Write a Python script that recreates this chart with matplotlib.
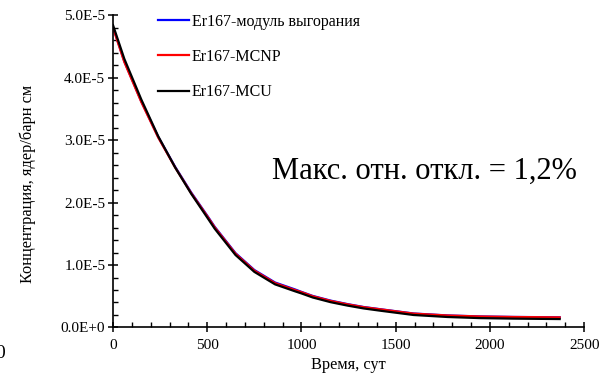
import numpy as np
import matplotlib
matplotlib.use("Agg")
import matplotlib.pyplot as plt
from matplotlib.ticker import MultipleLocator, FuncFormatter

plt.rcParams['font.family'] = ['Liberation Serif', 'DejaVu Serif']

# time, days
days = [0, 60, 150, 240, 330, 415, 500, 540, 650, 750, 860, 965, 1000, 1060,
        1155, 1245, 1330, 1420, 1595, 1775, 1950, 2125, 2370]

# Er167 concentration, 1e-5 nuclei/barn cm
mcu = [4.84, 4.30, 3.65, 3.06, 2.56, 2.14, 1.76, 1.58, 1.16, 0.89, 0.69, 0.58,
       0.545, 0.48, 0.405, 0.35, 0.305, 0.268, 0.20, 0.168, 0.150, 0.142, 0.135]
mcnp = [4.80, 4.25, 3.61, 3.04, 2.56, 2.15, 1.78, 1.60, 1.18, 0.91, 0.71, 0.60,
        0.565, 0.50, 0.425, 0.37, 0.325, 0.29, 0.222, 0.192, 0.176, 0.168, 0.162]
burnup = [4.81, 4.26, 3.62, 3.05, 2.57, 2.16, 1.79, 1.61, 1.19, 0.92, 0.72, 0.61,
          0.57, 0.505, 0.43, 0.374, 0.328, 0.292, 0.224, 0.193, 0.177, 0.169, 0.163]

labels = ["Er167-модуль выгорания", "Er167-MCNP", "Er167-MCU"]
colors = ["#0000ff", "#ff0000", "#000000"]

fig = plt.figure(figsize=(6.01, 3.76), dpi=100)
ax = fig.add_axes([0.188, 0.129, 0.784, 0.831])

for vals, lab, col in zip([burnup, mcnp, mcu], labels, colors):
    ax.plot(days, np.array(vals) * 1e-5, color=col, lw=1.6, label=lab)

ax.set_xlim(0, 2500)
ax.set_ylim(0, 5e-5)
ax.xaxis.set_major_locator(MultipleLocator(500))
ax.xaxis.set_minor_locator(MultipleLocator(100))
ax.yaxis.set_major_locator(MultipleLocator(1e-5))
ax.yaxis.set_minor_locator(MultipleLocator(2e-6))

def sci_fmt(v, pos):
    if abs(v) < 1e-12:
        return "0.0E+0"
    e = int(np.floor(np.log10(abs(v))))
    return f"{v / 10**e:.1f}E{e}"

ax.yaxis.set_major_formatter(FuncFormatter(sci_fmt))

for s in ["top", "right"]:
    ax.spines[s].set_visible(False)
for s in ["left", "bottom"]:
    ax.spines[s].set_linewidth(1.2)

ax.tick_params(which="major", direction="inout", length=7, width=1.1, labelsize=11)
ax.tick_params(which="minor", direction="in", length=3.5, width=1.0)
ax.tick_params(axis="x", pad=5)
ax.tick_params(axis="y", pad=2)

ax.set_xlabel("Время, сут", fontsize=11.8)
ax.set_ylabel("Концентрация, ядер/барн см", fontsize=11.8)
ax.xaxis.set_label_coords(0.5, -0.095)
ax.yaxis.set_label_coords(-0.164, 0.459)

ax.legend(loc="upper left", bbox_to_anchor=(0.064, 1.05), frameon=False,
          fontsize=11.5, handlelength=2.0, handletextpad=0.15, labelspacing=1.2)

ax.text(845, 2.5e-5, "Макс. отн. откл. = 1,2%", fontsize=22, va="center", ha="left")

# stray clipped label at the left edge
fig.text(0.0, 0.059, "0", fontsize=14, ha="center", va="center")

fig.savefig("out.png", dpi=100)
